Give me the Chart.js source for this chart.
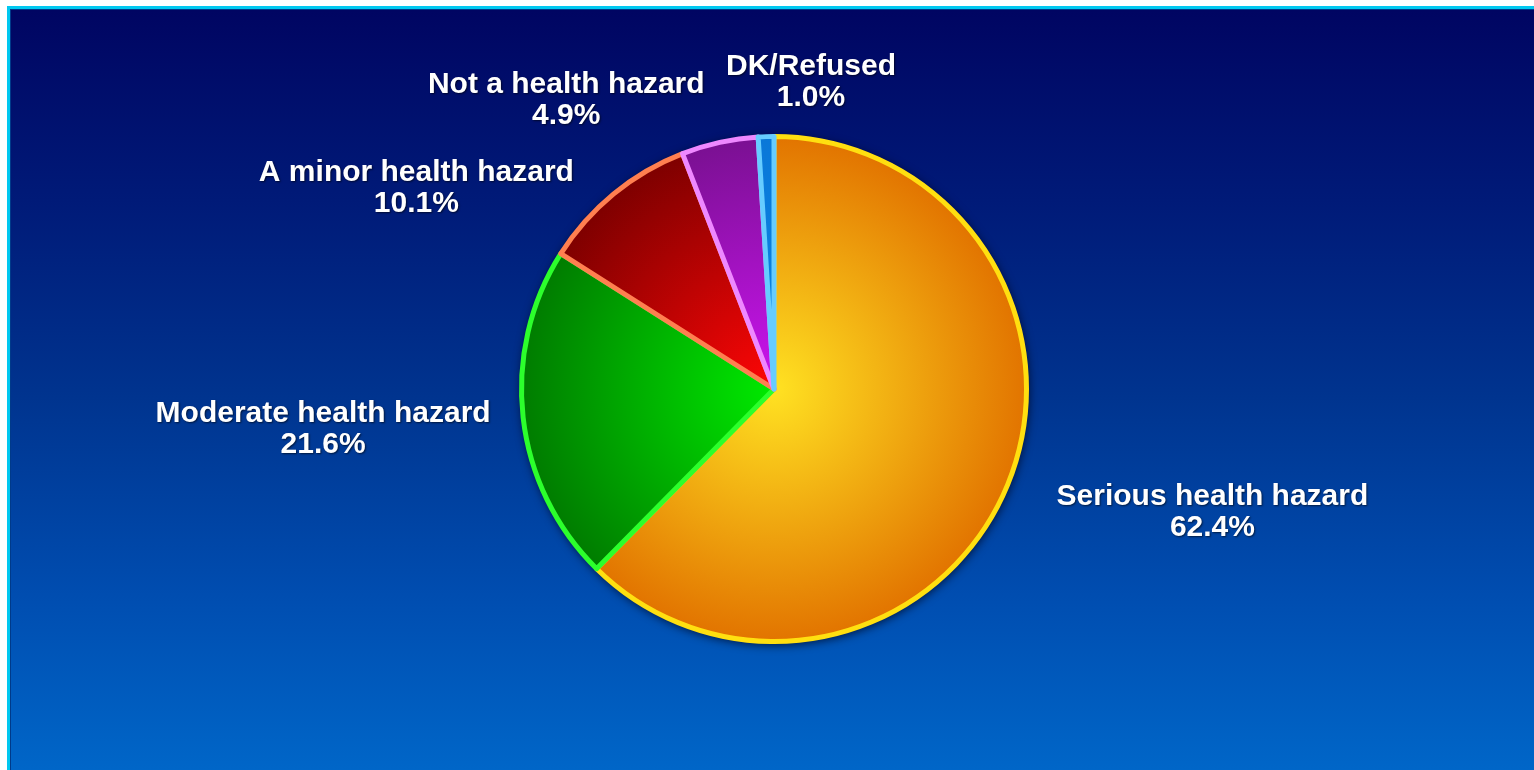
<!DOCTYPE html>
<html>
<head>
<meta charset="utf-8">
<style>
  html, body { margin: 0; padding: 0; background: #ffffff; }
  #wrap { position: absolute; left: 0; top: 0; width: 1534px; height: 770px; }
  canvas { display: block; }
</style>
<script src="https://cdn.jsdelivr.net/npm/chart.js@4.4.1/dist/chart.umd.min.js"></script>
</head>
<body>
<div id="wrap"><canvas id="c" width="1534" height="770"></canvas></div>
<script>
// ---- data ----
const categories = ["Serious health hazard", "Moderate health hazard", "A minor health hazard", "Not a health hazard", "DK/Refused"];
const values = [62.4, 21.6, 10.1, 4.9, 1.0];
const valueLabels = ["62.4%", "21.6%", "10.1%", "4.9%", "1.0%"];

// ---- styles ----
const innerColors = ["#ffe222", "#00ea00", "#ff0606", "#cc14f0", "#0a86e6"];
const outerColors = ["#e27400", "#007c00", "#7e0000", "#7a1092", "#0a78d8"];
const borderColors = ["#ffdf10", "#2cff2c", "#ff7f50", "#ee88ff", "#66ccff"];
const sliceBorder = 5;
// label offsets relative to the slice's outer mid-point (dx of text center, dy of first baseline)
const labelOffsets = [[203, 19], [-198, 4], [-196, -11], [-153, -47], [45, -60]];

function sliceGradient(ctx, i) {
  const chart = ctx.chart;
  const area = chart.chartArea;
  if (!area) return innerColors[i];
  const cx = (area.left + area.right) / 2;
  const cy = (area.top + area.bottom) / 2;
  const r = Math.max((Math.min(area.right - area.left, area.bottom - area.top) - sliceBorder) / 2, 1);
  const g = chart.ctx.createRadialGradient(cx, cy, 0, cx, cy, r);
  g.addColorStop(0, innerColors[i]);
  g.addColorStop(1, outerColors[i]);
  return g;
}

const bgPlugin = {
  id: 'bg',
  beforeDraw(chart) {
    const c = chart.ctx;
    const W = chart.width, H = chart.height;
    c.save();
    c.fillStyle = '#ffffff';
    c.fillRect(0, 0, W, H);
    c.fillStyle = '#00c8f0';
    c.fillRect(7, 6, W - 7, H - 6);
    c.fillStyle = '#003a8a';
    c.fillRect(10, 9, W - 10, H - 9);
    const g = c.createLinearGradient(0, 10, 0, H);
    g.addColorStop(0, '#000562');
    g.addColorStop(0.25, '#001a78');
    g.addColorStop(0.51, '#00348f');
    g.addColorStop(0.77, '#004db0');
    g.addColorStop(1, '#0066c8');
    c.fillStyle = g;
    c.fillRect(11, 10, W - 11, H - 10);
    c.restore();
  },
  beforeDatasetsDraw(chart) {
    const arc = chart.getDatasetMeta(0).data[0];
    if (!arc) return;
    const c = chart.ctx;
    c.save();
    c.shadowColor = 'rgba(0,0,20,0.75)';
    c.shadowBlur = 10;
    c.shadowOffsetX = 1;
    c.shadowOffsetY = 2;
    c.fillStyle = '#00134f';
    c.beginPath();
    c.arc(arc.x, arc.y, arc.outerRadius + 1.5, 0, Math.PI * 2);
    c.fill();
    c.restore();
  },
  afterDatasetsDraw(chart) {
    const meta = chart.getDatasetMeta(0);
    const c = chart.ctx;
    c.save();
    c.font = 'bold 30px "Liberation Sans", Arial, sans-serif';
    c.textAlign = 'center';
    c.textBaseline = 'alphabetic';
    c.fillStyle = '#ffffff';
    c.shadowColor = 'rgba(0,0,0,0.6)';
    c.shadowBlur = 2;
    c.shadowOffsetX = 1;
    c.shadowOffsetY = 1;
    meta.data.forEach((arc, i) => {
      const mid = (arc.startAngle + arc.endAngle) / 2;
      const r = arc.outerRadius + 2;
      const ax = arc.x + Math.cos(mid) * r;
      const ay = arc.y + Math.sin(mid) * r;
      const x = ax + labelOffsets[i][0];
      const y = ay + labelOffsets[i][1];
      c.fillText(categories[i], x, y);
      c.fillText(valueLabels[i], x, y + 31);
    });
    c.restore();
  }
};

new Chart(document.getElementById('c'), {
  type: 'pie',
  data: {
    labels: categories,
    datasets: [{
      data: values,
      backgroundColor: (ctx) => sliceGradient(ctx, ctx.dataIndex),
      borderColor: borderColors,
      borderWidth: sliceBorder,
      borderJoinStyle: 'round',
      hoverOffset: 0
    }]
  },
  options: {
    responsive: false,
    animation: false,
    rotation: 0,
    layout: { padding: { top: 134, bottom: 126, left: 14, right: 0 } },
    plugins: {
      legend: { display: false },
      tooltip: { enabled: false },
      title: { display: false }
    }
  },
  plugins: [bgPlugin]
});
</script>
</body>
</html>
